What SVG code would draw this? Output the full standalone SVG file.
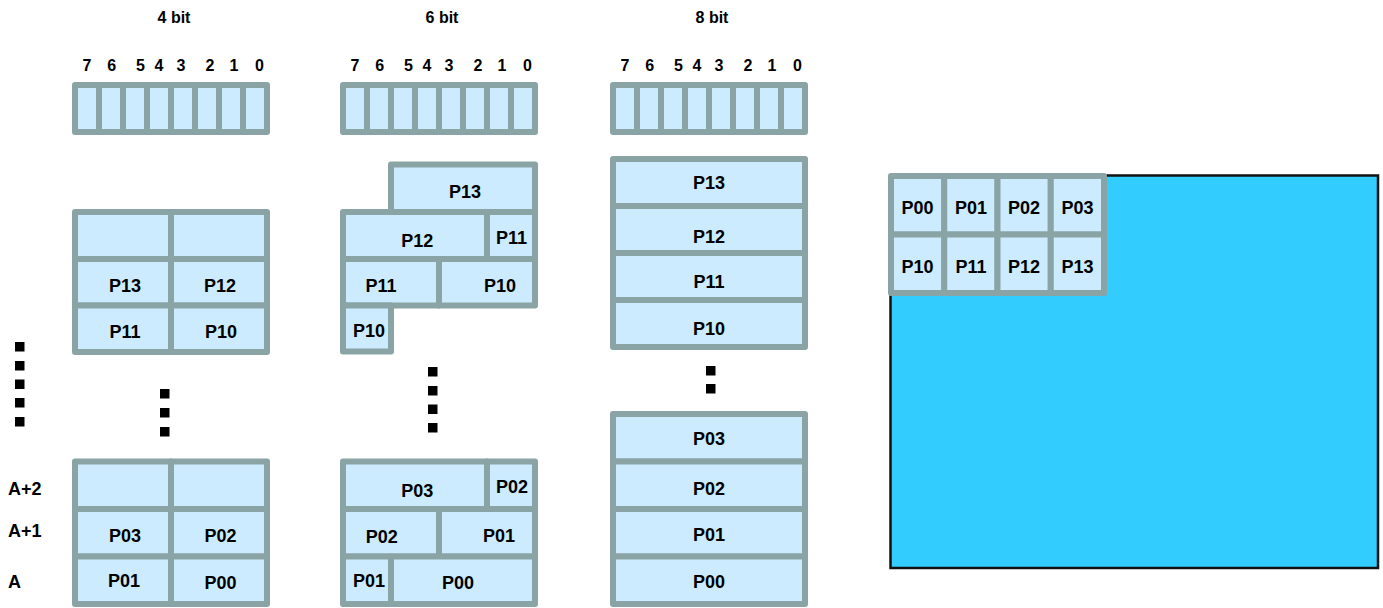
<svg xmlns="http://www.w3.org/2000/svg" width="1383" height="608" viewBox="0 0 1383 608">
<style>
.c{fill:#CCEBFF;stroke:#8AA4A6;stroke-width:6;stroke-linejoin:round}
.t{font-family:"Liberation Sans",Arial,sans-serif;font-weight:bold;font-size:18px;text-anchor:middle;fill:#000}
.h{font-size:16px}
.l{text-anchor:start}
.d{fill:#000}
</style>
<rect width="1383" height="608" fill="#fff"/>
<defs>
<g id="reg">
<rect class="c" x="0" y="0" width="24" height="47"/>
<rect class="c" x="24" y="0" width="24" height="47"/>
<rect class="c" x="48" y="0" width="24" height="47"/>
<rect class="c" x="72" y="0" width="24" height="47"/>
<rect class="c" x="96" y="0" width="24" height="47"/>
<rect class="c" x="120" y="0" width="24" height="47"/>
<rect class="c" x="144" y="0" width="24" height="47"/>
<rect class="c" x="168" y="0" width="24" height="47"/>
</g>
<g id="bits">
<text class="t h" y="0"><tspan x="12">7</tspan><tspan x="36.7">6</tspan><tspan x="65.5">5</tspan><tspan x="84">4</tspan><tspan x="106">3</tspan><tspan x="135">2</tspan><tspan x="159">1</tspan><tspan x="184.5">0</tspan></text>
</g>
</defs>

<g id="col-4bit">
<g id="hdr-4bit"><text class="t h" x="174" y="23">4 bit</text><use href="#bits" x="75" y="71"/></g>
<g id="reg-4bit"><use href="#reg" x="75" y="85"/></g>
<g id="b4-upper">
<g id="b4-u-e1"><rect class="c" x="75" y="212" width="96" height="47"/></g>
<g id="b4-u-e2"><rect class="c" x="171" y="212" width="96" height="47"/></g>
<g id="b4-u-p13"><rect class="c" x="75" y="259" width="96" height="46.5"/><text class="t" x="125" y="292">P13</text></g>
<g id="b4-u-p12"><rect class="c" x="171" y="259" width="96" height="46.5"/><text class="t" x="220" y="292">P12</text></g>
<g id="b4-u-p11"><rect class="c" x="75" y="305.5" width="96" height="46.5"/><text class="t" x="125" y="337.5">P11</text></g>
<g id="b4-u-p10"><rect class="c" x="171" y="305.5" width="96" height="46.5"/><text class="t" x="221" y="338">P10</text></g>
</g>
<g id="b4-lower">
<g id="b4-l-e1"><rect class="c" x="75" y="461.5" width="96" height="47.5"/></g>
<g id="b4-l-e2"><rect class="c" x="171" y="461.5" width="96" height="47.5"/></g>
<g id="b4-l-p03"><rect class="c" x="75" y="509" width="96" height="47.5"/><text class="t" x="125" y="541.5">P03</text></g>
<g id="b4-l-p02"><rect class="c" x="171" y="509" width="96" height="47.5"/><text class="t" x="220.5" y="541.5">P02</text></g>
<g id="b4-l-p01"><rect class="c" x="75" y="556.5" width="96" height="47.5"/><text class="t" x="124" y="587">P01</text></g>
<g id="b4-l-p00"><rect class="c" x="171" y="556.5" width="96" height="47.5"/><text class="t" x="220.5" y="588.5">P00</text></g>
</g>
<g id="dots-4bit"><rect class="d" x="160" y="389" width="9.5" height="9.5"/><rect class="d" x="160" y="408" width="9.5" height="9.5"/><rect class="d" x="160" y="427" width="9.5" height="9.5"/></g>
</g>

<g id="col-6bit">
<g id="hdr-6bit"><text class="t h" x="442" y="23">6 bit</text><use href="#bits" x="343" y="71"/></g>
<g id="reg-6bit"><use href="#reg" x="343" y="85"/></g>
<g id="b6-upper">
<g id="b6-u-p13"><rect class="c" x="391" y="164.5" width="144" height="47.5"/><text class="t" x="465" y="197.5">P13</text></g>
<g id="b6-u-p12"><rect class="c" x="343" y="212" width="144" height="47"/><text class="t" x="417.3" y="246.5">P12</text></g>
<g id="b6-u-p11a"><rect class="c" x="487" y="212" width="48" height="47"/><text class="t" x="511.5" y="244">P11</text></g>
<g id="b6-u-p11b"><rect class="c" x="343" y="259" width="96" height="46.5"/><text class="t" x="381" y="291.5">P11</text></g>
<g id="b6-u-p10a"><rect class="c" x="439" y="259" width="96" height="46.5"/><text class="t" x="500" y="291.5">P10</text></g>
<g id="b6-u-p10b"><rect class="c" x="343" y="305.5" width="48" height="46"/><text class="t" x="369" y="337">P10</text></g>
</g>
<g id="b6-lower">
<g id="b6-l-p03"><rect class="c" x="343" y="461.5" width="144" height="47.5"/><text class="t" x="417.3" y="496.5">P03</text></g>
<g id="b6-l-p02a"><rect class="c" x="487" y="461.5" width="48" height="47.5"/><text class="t" x="512" y="493">P02</text></g>
<g id="b6-l-p02b"><rect class="c" x="343" y="509" width="96" height="47.5"/><text class="t" x="381.7" y="543">P02</text></g>
<g id="b6-l-p01a"><rect class="c" x="439" y="509" width="96" height="47.5"/><text class="t" x="499" y="541.5">P01</text></g>
<g id="b6-l-p01b"><rect class="c" x="343" y="556.5" width="48" height="47.5"/><text class="t" x="369" y="586.7">P01</text></g>
<g id="b6-l-p00"><rect class="c" x="391" y="556.5" width="144" height="47.5"/><text class="t" x="458" y="589">P00</text></g>
</g>
<g id="dots-6bit"><rect class="d" x="428" y="367" width="9.5" height="9.5"/><rect class="d" x="428" y="386" width="9.5" height="9.5"/><rect class="d" x="428" y="404.5" width="9.5" height="9.5"/><rect class="d" x="428" y="423" width="9.5" height="9.5"/></g>
</g>

<g id="col-8bit">
<g id="hdr-8bit"><text class="t h" x="712" y="23">8 bit</text><use href="#bits" x="613" y="71"/></g>
<g id="reg-8bit"><use href="#reg" x="613" y="85"/></g>
<g id="b8-upper">
<g id="b8-u-p13"><rect class="c" x="613" y="159" width="192" height="47"/><text class="t" x="709" y="189.3">P13</text></g>
<g id="b8-u-p12"><rect class="c" x="613" y="206" width="192" height="47"/><text class="t" x="709" y="243.3">P12</text></g>
<g id="b8-u-p11"><rect class="c" x="613" y="253" width="192" height="47"/><text class="t" x="709" y="288.3">P11</text></g>
<g id="b8-u-p10"><rect class="c" x="613" y="300" width="192" height="47"/><text class="t" x="709" y="335">P10</text></g>
</g>
<g id="b8-lower">
<g id="b8-l-p03"><rect class="c" x="613" y="414" width="192" height="47.5"/><text class="t" x="709" y="445">P03</text></g>
<g id="b8-l-p02"><rect class="c" x="613" y="461.5" width="192" height="47.5"/><text class="t" x="709" y="495">P02</text></g>
<g id="b8-l-p01"><rect class="c" x="613" y="509" width="192" height="47.5"/><text class="t" x="709" y="541">P01</text></g>
<g id="b8-l-p00"><rect class="c" x="613" y="556.5" width="192" height="47.5"/><text class="t" x="709" y="588">P00</text></g>
</g>
<g id="dots-8bit"><rect class="d" x="706" y="366" width="9.5" height="9.5"/><rect class="d" x="706" y="384" width="9.5" height="9.5"/></g>
</g>

<g id="addr-labels">
<text class="t l" x="8" y="495">A+2</text>
<text class="t l" x="8" y="537">A+1</text>
<text class="t l" x="8" y="588">A</text>
</g>
<g id="dots-left"><rect class="d" x="15" y="342" width="9.5" height="9.5"/><rect class="d" x="15" y="361" width="9.5" height="9.5"/><rect class="d" x="15" y="379.5" width="9.5" height="9.5"/><rect class="d" x="15" y="398" width="9.5" height="9.5"/><rect class="d" x="15" y="417" width="9.5" height="9.5"/></g>

<g id="screen">
<rect x="890.5" y="175.5" width="487.5" height="392.5" fill="#33CCFF" stroke="#111" stroke-width="2.5"/>
</g>
<g id="pixel-grid">
<g id="g-p00"><rect class="c" x="891" y="176" width="53.25" height="58.5"/><text class="t" x="917.6" y="214">P00</text></g>
<g id="g-p01"><rect class="c" x="944.25" y="176" width="53.25" height="58.5"/><text class="t" x="970.9" y="214">P01</text></g>
<g id="g-p02"><rect class="c" x="997.5" y="176" width="53.25" height="58.5"/><text class="t" x="1024.1" y="214">P02</text></g>
<g id="g-p03"><rect class="c" x="1050.75" y="176" width="53.25" height="58.5"/><text class="t" x="1077.4" y="214">P03</text></g>
<g id="g-p10"><rect class="c" x="891" y="234.5" width="53.25" height="58.5"/><text class="t" x="917.6" y="273.3">P10</text></g>
<g id="g-p11"><rect class="c" x="944.25" y="234.5" width="53.25" height="58.5"/><text class="t" x="970.9" y="273.3">P11</text></g>
<g id="g-p12"><rect class="c" x="997.5" y="234.5" width="53.25" height="58.5"/><text class="t" x="1024.1" y="273.3">P12</text></g>
<g id="g-p13"><rect class="c" x="1050.75" y="234.5" width="53.25" height="58.5"/><text class="t" x="1077.4" y="273.3">P13</text></g>
</g>
<g id="connectors"/>
</svg>
